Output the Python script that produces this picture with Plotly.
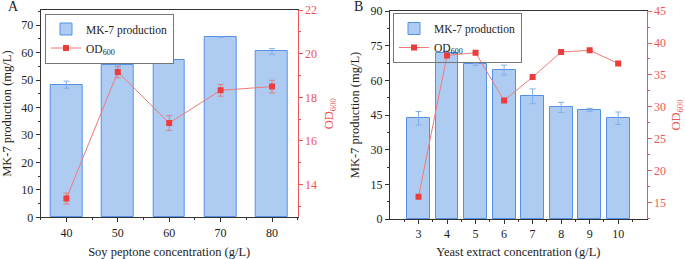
import plotly.graph_objects as go

# Panel A data
soy_conc = [40, 50, 60, 70, 80]
soy_mk7 = [48.3, 55.6, 57.2, 65.6, 60.4]
soy_mk7_err = [1.3, 0.9, 0.2, 0.1, 1.0]
soy_od = [13.36, 19.16, 16.82, 18.32, 18.49]
soy_od_err = [0.25, 0.27, 0.34, 0.27, 0.29]

# Panel B data
yeast_conc = [3, 4, 5, 6, 7, 8, 9, 10]
yeast_mk7 = [43.6, 71.8, 66.9, 64.5, 53.1, 48.3, 47.2, 43.6]
yeast_mk7_err = [2.9, 0.9, 0.4, 2.1, 3.2, 2.2, 0.7, 2.7]
yeast_od = [15.94, 38.06, 38.48, 31.0, 34.67, 38.59, 38.85, 36.81]

W, H = 685, 259
FONT = "Liberation Serif, Times New Roman, serif"
BAR_FILL = "rgba(160,195,240,0.85)"
BAR_LINE = "rgb(85,145,230)"
BAR_ERR = "rgb(125,175,235)"
RED = "rgb(236,60,60)"
RED_LINE = "rgb(242,120,120)"
RED_AX = "rgb(240,85,85)"

def px(x):
    return x / W

def py(y):
    return 1 - y / H

fig = go.Figure()

# Panel A
fig.add_trace(go.Bar(
    x=soy_conc, y=soy_mk7, width=6.2, name="MK-7 production",
    marker=dict(color=BAR_FILL, line=dict(color=BAR_LINE, width=1)),
    error_y=dict(type="data", array=soy_mk7_err, color=BAR_ERR, thickness=1, width=3),
    xaxis="x", yaxis="y", legend="legend"))
fig.add_trace(go.Scatter(
    x=soy_conc, y=soy_od, mode="lines+markers", name="OD<sub>600</sub>",
    line=dict(color=RED_LINE, width=1),
    marker=dict(symbol="square", size=6, color=RED),
    error_y=dict(type="data", array=soy_od_err, color="rgb(215,130,130)", thickness=1, width=3),
    xaxis="x", yaxis="y2", legend="legend"))

# Panel B
fig.add_trace(go.Bar(
    x=yeast_conc, y=yeast_mk7, width=0.8, name="MK-7 production",
    marker=dict(color=BAR_FILL, line=dict(color=BAR_LINE, width=1)),
    error_y=dict(type="data", array=yeast_mk7_err, color=BAR_ERR, thickness=1, width=3),
    xaxis="x2", yaxis="y3", legend="legend2"))
fig.add_trace(go.Scatter(
    x=yeast_conc, y=yeast_od, mode="lines+markers", name="OD<sub>600</sub>",
    line=dict(color=RED_LINE, width=1),
    marker=dict(symbol="square", size=6, color=RED),
    xaxis="x2", yaxis="y4", legend="legend2"))

tickfont = dict(family=FONT, size=12, color="#222")
redfont = dict(family=FONT, size=12, color=RED_AX)

def xax(domain, rng, anchor, title, tickvals, minor):
    return dict(domain=domain, range=rng, anchor=anchor, tickmode="array", tickvals=tickvals,
                ticks="outside", ticklen=4, tickcolor="#333", showline=True, linecolor="#333",
                linewidth=1, mirror=True, showgrid=False, zeroline=False, tickfont=tickfont,
                title=dict(text=title, font=dict(family=FONT, size=12.5, color="#222"), standoff=8),
                minor=minor, automargin=False)

def yleft(domain, rng, anchor, dtick, mdtick):
    return dict(domain=domain, range=rng, anchor=anchor, tickmode="linear", tick0=0, dtick=dtick,
                ticks="outside", ticklen=4, tickcolor="#333", showline=True, linecolor="#333",
                linewidth=1, showgrid=False, zeroline=False, tickfont=tickfont,
                minor=dict(ticks="outside", ticklen=2, dtick=mdtick, tick0=0, tickcolor="#333"),
                title=dict(text="MK-7 production (mg/L)", font=dict(family=FONT, size=12.5, color="#222"), standoff=8),
                automargin=False)

def yright(rng, anchor, overlay, tick0, dtick, mdtick):
    return dict(range=rng, anchor=anchor, overlaying=overlay, side="right", tickmode="linear",
                tick0=tick0, dtick=dtick, ticks="outside", ticklen=4, tickcolor=RED_AX,
                showline=True, linecolor=RED_AX, linewidth=1, showgrid=False, zeroline=False,
                tickfont=redfont,
                minor=dict(ticks="outside", ticklen=2, dtick=mdtick, tick0=tick0, tickcolor=RED_AX),
                title=dict(text="OD<sub>600</sub>", font=dict(family=FONT, size=12.5, color=RED_AX), standoff=8),
                automargin=False)

domA_x = [px(40.7), px(297.7)]
domA_y = [py(217.3), py(10)]
domB_x = [px(390), px(646.7)]
domB_y = [py(219), py(11)]

legfont = dict(family=FONT, size=11.5, color="#222")

fig.update_layout(
    template="none",
    width=W, height=H,
    margin=dict(l=0, r=0, t=0, b=0),
    paper_bgcolor="white", plot_bgcolor="white",
    font=dict(family=FONT, size=12, color="#222"),
    bargap=0,
    xaxis=xax(domA_x, [35, 85], "y", "Soy peptone concentration (g/L)", soy_conc,
              dict(ticks="outside", ticklen=2, tickmode="linear", tick0=35, dtick=5, tickcolor="#333")),
    yaxis=yleft(domA_y, [0, 75.5], "x", 10, 5),
    yaxis2=yright([12.5, 22.001], "x", "y", 14, 2, 1),
    xaxis2=xax(domB_x, [2, 11], "y3", "Yeast extract concentration (g/L)", yeast_conc,
               dict(ticks="outside", ticklen=2, tickmode="linear", tick0=2.5, dtick=1, tickcolor="#333")),
    yaxis3=yleft(domB_y, [0, 90.01], "x2", 15, 7.5),
    yaxis4=yright([12.45, 45.01], "x2", "y3", 15, 5, 2.5),
    legend=dict(x=px(45), y=py(13.5), xanchor="left", yanchor="top",
                bordercolor="#777", borderwidth=1, bgcolor="white",
                font=legfont, tracegroupgap=0, itemwidth=30),
    legend2=dict(x=px(393), y=py(13), xanchor="left", yanchor="top",
                 bordercolor="#777", borderwidth=1, bgcolor="rgba(255,255,255,0)",
                 font=legfont, tracegroupgap=0, itemwidth=30),
    annotations=[
        dict(text="A", x=px(13), y=py(7), xref="paper", yref="paper", showarrow=False,
             xanchor="center", yanchor="middle",
             font=dict(family=FONT, size=14, color="#222")),
        dict(text="B", x=px(358), y=py(7), xref="paper", yref="paper", showarrow=False,
             xanchor="center", yanchor="middle",
             font=dict(family=FONT, size=14, color="#222")),
    ],
)

fig.write_html("out.html", config={"displayModeBar": False},
               post_script="document.body.style.margin='0';document.body.style.padding='0';")
